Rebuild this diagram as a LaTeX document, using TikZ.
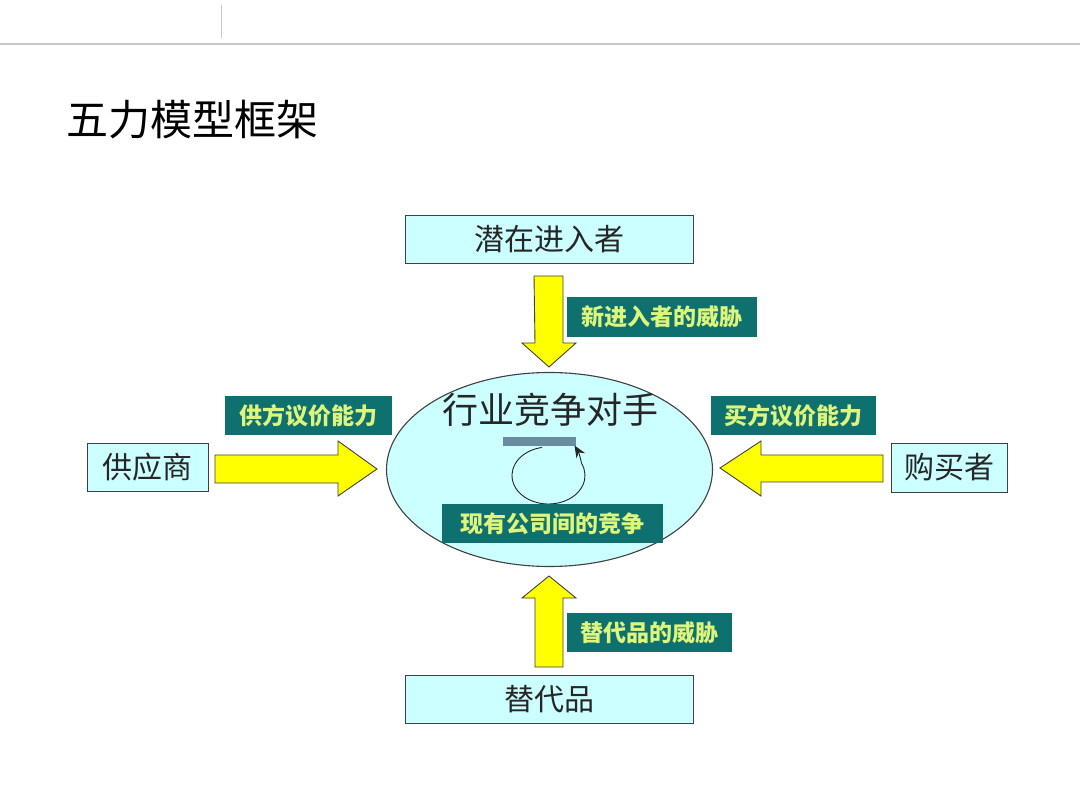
\documentclass[tikz,border=0pt]{standalone}
\usepackage{fontspec}
\setmainfont{Noto Sans CJK SC}
\newfontfamily\cjk{Noto Sans CJK SC}
\usetikzlibrary{arrows.meta}
\definecolor{boxfill}{HTML}{CCFFFF}
\definecolor{ellfill}{HTML}{CCFFFF}
\definecolor{tealfill}{HTML}{0F7070}
\definecolor{labtext}{HTML}{DDF57A}
\definecolor{arrowfill}{HTML}{FFFF00}
\definecolor{edge}{HTML}{404040}
\definecolor{barcol}{HTML}{6A8CA0}
\definecolor{rulecol}{HTML}{C8C8C8}
\tikzset{
  forcebox/.style={draw=edge, line width=0.9pt, fill=boxfill, inner sep=0pt,
    font=\cjk\fontsize{30}{32}\selectfont, text=black!85},
  tag/.style={fill=tealfill, inner sep=0pt, text=labtext,
    font=\cjk\bfseries\fontsize{23}{25}\selectfont},
  blockarrow/.style={draw=edge, line width=0.9pt, fill=arrowfill, line join=miter},
}
\begin{document}
\begin{tikzpicture}[x=1pt,y=-1pt]
\useasboundingbox (0,0) rectangle (1080,810);
\fill[white] (0,0) rectangle (1080,810);
% header
\draw[rulecol, line width=1.6pt] (0,44) -- (1080,44);
\draw[rulecol, line width=1pt] (221,5) -- (221,38);
\node[anchor=west, font=\cjk\fontsize{42}{44}\selectfont, inner sep=0pt] (title) at (66,120) {五力模型框架};

% boxes
\node[forcebox, minimum width=288pt, minimum height=48pt] (top) at (549,239) {潜在进入者};
\node[forcebox, minimum width=288pt, minimum height=48pt] (bot) at (549,699) {替代品};
\node[forcebox, minimum width=121pt, minimum height=48pt] (left) at (147.5,467) {供应商};
\node[forcebox, minimum width=116pt, minimum height=49pt] (right) at (949,467.5) {购买者};

% central ellipse
\draw[edge, line width=1.1pt, fill=ellfill] (549.5,469.5) ellipse [x radius=163, y radius=97];
\node[font=\cjk\fontsize{36}{38}\selectfont, inner sep=0pt, text=black!85] (rival) at (550,410) {行业竞争对手};
\coordinate (cc) at (548.5,475.5);
\coordinate (tip) at (574.5,445.5);
\begin{scope}[shift={(cc)}]
\draw[black!85, line width=0.9pt]
  (100:36.5pt and 28.5pt) arc[start angle=100, end angle=385, x radius=36.5pt, y radius=28.5pt] coordinate (arcend);
\end{scope}
\fill[barcol] (503,437) rectangle (576,446);
\draw[black!85, line width=0.9pt, -{Stealth[length=12pt,width=10pt]}] (arcend) to[bend right=10] (tip);

% block arrows
\draw[blockarrow] (534,276) -- (563,276) -- (563,343) -- (576,343) -- (549,367) -- (522,343) -- (535,343) -- cycle;
\draw[blockarrow] (535,667) -- (563,667) -- (563,598) -- (576,598) -- (549,576) -- (522,598) -- (535,598) -- cycle;
\draw[blockarrow] (215,455) -- (338,455) -- (338,441) -- (377,469) -- (338,496) -- (338,483) -- (215,483) -- cycle;
\draw[blockarrow] (883,455) -- (761,455) -- (761,441) -- (720,468) -- (761,496) -- (761,482) -- (883,482) -- cycle;

% labels
\node[tag, minimum width=190pt, minimum height=40pt] (l1) at (662,317) {新进入者的威胁};
\node[tag, minimum width=165pt, minimum height=39pt] (l2) at (649.5,632.5) {替代品的威胁};
\node[tag, minimum width=167pt, minimum height=39pt] (l3) at (308.5,415.5) {供方议价能力};
\node[tag, minimum width=165pt, minimum height=39pt] (l4) at (793.5,415.5) {买方议价能力};
\node[tag, minimum width=221pt, minimum height=39pt] (l5) at (552.5,523.5) {现有公司间的竞争};
\end{tikzpicture}
\end{document}
